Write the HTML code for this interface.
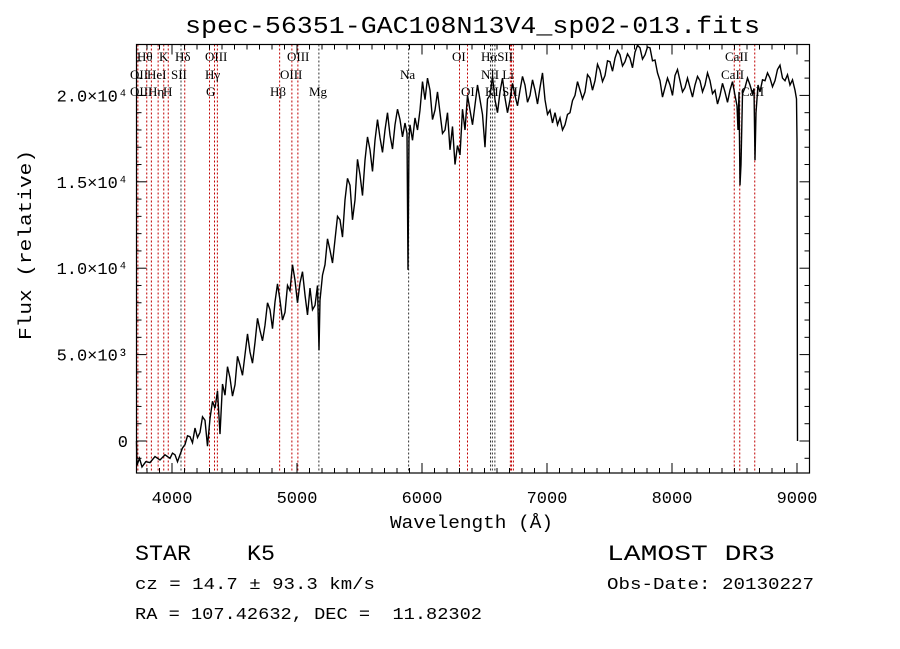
<!DOCTYPE html>
<html><head><meta charset="utf-8"><style>
html,body{margin:0;padding:0;background:#fff;}
svg{display:block;font-family:"Liberation Serif",serif;}
.m{font-family:"Liberation Mono",monospace;}
</style></head><body>
<svg id="chart" width="900" height="649" viewBox="0 0 900 649" xmlns="http://www.w3.org/2000/svg">
<rect width="900" height="649" fill="#fff"/>
<text x="185" y="33" font-size="24" class="m" textLength="575" lengthAdjust="spacingAndGlyphs">spec-56351-GAC108N13V4_sp02-013.fits</text>
<g id="lines"></g>
<g id="labels" font-size="13"></g>
<path id="spec" fill="none" stroke="#000" stroke-width="1.4" stroke-linejoin="miter"/>
<rect x="136.5" y="44.5" width="673" height="428.5" fill="none" stroke="#000" stroke-width="1.2"/>
<g id="ticks" stroke="#000" stroke-width="1"></g>
<g id="ticklabels" font-size="17" class="m"></g>
<text x="390" y="528" font-size="18" class="m" textLength="163" lengthAdjust="spacingAndGlyphs">Wavelength (Å)</text>
<text transform="translate(31,340) rotate(-90)" font-size="18" class="m" textLength="190" lengthAdjust="spacingAndGlyphs">Flux (relative)</text>
<text x="135" y="560" font-size="22" class="m" style="white-space:pre" xml:space="preserve" textLength="140" lengthAdjust="spacingAndGlyphs">STAR    K5</text>
<text x="607" y="560" font-size="22" class="m" textLength="168" lengthAdjust="spacingAndGlyphs">LAMOST DR3</text>
<text x="135" y="589" font-size="17" class="m" textLength="240" lengthAdjust="spacingAndGlyphs">cz = 14.7 ± 93.3 km/s</text>
<text x="607" y="589" font-size="17" class="m" textLength="207" lengthAdjust="spacingAndGlyphs">Obs-Date: 20130227</text>
<text x="135" y="619" font-size="17" class="m" style="white-space:pre" xml:space="preserve" textLength="347" lengthAdjust="spacingAndGlyphs">RA = 107.42632, DEC =  11.82302</text>
</svg>
<script>
const wavelengths=[3712,3720,3740,3760,3790,3824,3864,3904,3944,3984,4004,4024,4044,4064,4084,4104,4124,4144,4164,4184,4204,4224,4244,4264,4284,4304,4324,4344,4364,4384,4404,4424,4444,4464,4484,4504,4524,4544,4564,4584,4604,4624,4644,4664,4684,4704,4724,4744,4764,4784,4804,4824,4844,4864,4884,4904,4924,4944,4964,4984,5004,5024,5044,5064,5084,5104,5124,5144,5164,5176,5184,5204,5224,5244,5264,5284,5304,5324,5344,5364,5384,5404,5424,5444,5464,5484,5504,5524,5544,5564,5584,5604,5624,5644,5664,5684,5704,5724,5744,5764,5784,5804,5824,5844,5864,5880,5888,5896,5904,5924,5944,5964,5984,6004,6024,6044,6064,6084,6104,6124,6144,6164,6184,6204,6224,6244,6264,6284,6304,6324,6344,6364,6384,6404,6424,6444,6464,6484,6504,6524,6544,6564,6584,6604,6624,6644,6664,6684,6704,6724,6744,6764,6784,6804,6824,6844,6864,6884,6904,6924,6944,6964,6984,7004,7024,7044,7064,7084,7104,7124,7144,7164,7184,7204,7224,7244,7264,7284,7304,7324,7344,7364,7384,7404,7424,7444,7464,7484,7504,7524,7544,7564,7584,7604,7624,7644,7664,7684,7704,7724,7744,7764,7784,7804,7824,7844,7864,7884,7904,7924,7944,7964,7984,8004,8024,8044,8064,8084,8104,8124,8144,8164,8184,8204,8224,8244,8264,8284,8304,8324,8344,8364,8384,8404,8424,8444,8464,8484,8504,8520,8528,8536,8544,8552,8564,8584,8604,8624,8644,8656,8664,8672,8688,8704,8724,8744,8764,8784,8804,8824,8844,8864,8884,8904,8924,8944,8964,8984,8996,9000,9004];
const fluxes=[0,-1400,-1000,-1500,-1200,-1250,-900,-1100,-800,-1000,-700,-800,-1200,-800,-400,-200,300,250,-100,750,200,500,1400,1200,-300,1300,2300,1900,2900,400,3300,2650,4300,3650,2600,3250,4900,4400,3800,5000,6200,5150,4500,5700,7100,6400,5800,6700,8000,7600,6500,8050,9100,8150,7000,7450,9000,8700,10200,9300,8000,9150,9800,8450,7300,8850,7600,7850,9000,5250,8150,9600,10200,11700,11050,10300,11650,13000,12800,11800,13950,15200,14800,12800,13950,16300,15400,14200,16250,17600,16850,15600,17400,18600,17550,16700,18000,19000,17700,16900,18300,19200,18600,17600,18400,17800,9900,17500,18300,17400,18700,18000,19150,20800,19750,21000,20300,18600,19150,20200,19000,17800,18000,19000,16850,18200,16000,17100,16550,19200,18000,20000,19150,18300,19450,20600,19750,18900,17000,19800,20000,21100,19750,19000,20200,21000,19850,19000,19750,20700,20000,19400,20300,21100,20600,19600,20000,20900,20300,19500,20450,21300,19750,18900,19150,18400,19000,18300,18700,18000,18300,18900,19000,19700,20000,20800,20300,19800,20200,21200,21000,20300,20850,21800,21450,20800,21150,22000,21950,21400,22150,22600,22350,21700,21950,22400,22150,21600,22500,22900,22750,22100,22350,22800,22750,22000,22050,21300,20850,19900,20450,21000,20600,20000,21150,21500,20850,20200,20450,21000,20450,19900,20600,21100,20850,20200,20600,21300,20850,20100,20300,19500,20000,20700,20200,19600,20300,20800,20000,19400,18000,20200,14800,16000,20100,20450,21000,20600,20100,20400,16250,19000,20600,20200,20900,20850,21300,21000,20500,20850,21500,21750,21000,20850,21200,20600,20900,20300,19800,17400,0];
const lineWaves=[3727,3798,3835,3889,3934,3970,4072,4102,4300,4340,4363,4861,4959,5007,5175,5893,6300,6364,6548,6563,6583,6707,6716,6731,8498,8542,8662];
const lineBlack=[0,0,0,0,0,0,1,0,0,0,0,0,0,0,1,1,0,0,1,1,1,0,0,0,0,0,0];
const labelText=["Hθ","K","Hδ","OIII","OIII","OI","HαSII","CaII","OII","HeI","SII","Hγ","OIII","Na","NII Li","CaII","OIII","Hη","H","G","Hβ","Mg","OI","KI SII","CaII"];
const labelWave=[3720,3896,4024,4264,4920,6240,6472,8424,3664,3800,3992,4264,4864,5824,6472,8392,3664,3808,3928,4272,4784,5096,6312,6504,8552];
const labelRow=[0,0,0,0,0,0,0,0,1,1,1,1,1,1,1,1,2,2,2,2,2,2,2,2,2];
const xTickVals=[4000,5000,6000,7000,8000,9000];
const yTickVals=[0,5000,10000,15000,20000];
const yTickLabels=["0","5.0×10³","1.0×10⁴","1.5×10⁴","2.0×10⁴"];

const X0=136.5,X1=809.5,Y0=44.5,Y1=473;
const xScale=w=>172+(w-4000)*0.125;
const yScale=f=>441-f*0.01728;
const NS="http://www.w3.org/2000/svg";
function mk(tag,attrs,parent){const e=document.createElementNS(NS,tag);for(const k in attrs)e.setAttribute(k,attrs[k]);parent.appendChild(e);return e;}

let d="";
wavelengths.forEach((w,i)=>{d+=(i?"L":"M")+Math.max(X0,xScale(w)).toFixed(1)+","+Math.min(Y1,Math.max(Y0,yScale(fluxes[i]))).toFixed(1);});
document.getElementById("spec").setAttribute("d",d);

const lg=document.getElementById("lines");
lineWaves.forEach((w,i)=>{const x=xScale(w);
 const l=mk("line",{x1:x,x2:x,y1:Y0,y2:Y1,stroke:lineBlack[i]?"#333":"#c00000","stroke-width":1,"stroke-dasharray":"2,2"},lg);
 
 
});
const lab=document.getElementById("labels");
const rowY=[61,79,96];
labelText.forEach((t,i)=>{const e=mk("text",{x:xScale(labelWave[i]),y:rowY[labelRow[i]]},lab);e.textContent=t;
 
 
});

const tg=document.getElementById("ticks"),tl=document.getElementById("ticklabels");
for(let w=3800;w<=9100;w+=100){const x=xScale(w);if(x<X0||x>X1)continue;const L=(w%1000===0)?10:5;
 mk("line",{x1:x,x2:x,y1:Y1,y2:Y1-L},tg);mk("line",{x1:x,x2:x,y1:Y0,y2:Y0+L},tg);}
for(let f=-1000;f<=22000;f+=1000){const y=yScale(f);if(y<Y0||y>Y1)continue;const L=(f%5000===0)?10:5;
 mk("line",{x1:X0,x2:X0+L,y1:y,y2:y},tg);mk("line",{x1:X1,x2:X1-L,y1:y,y2:y},tg);}
xTickVals.forEach(v=>{const e=mk("text",{x:xScale(v),y:503,"text-anchor":"middle"},tl);e.textContent=v;
 
 
});
yTickVals.forEach((v,i)=>{const e=mk("text",{x:128,y:yScale(v)+6,"text-anchor":"end"},tl);e.textContent=yTickLabels[i];
 
 
});
</script>
</body></html>
